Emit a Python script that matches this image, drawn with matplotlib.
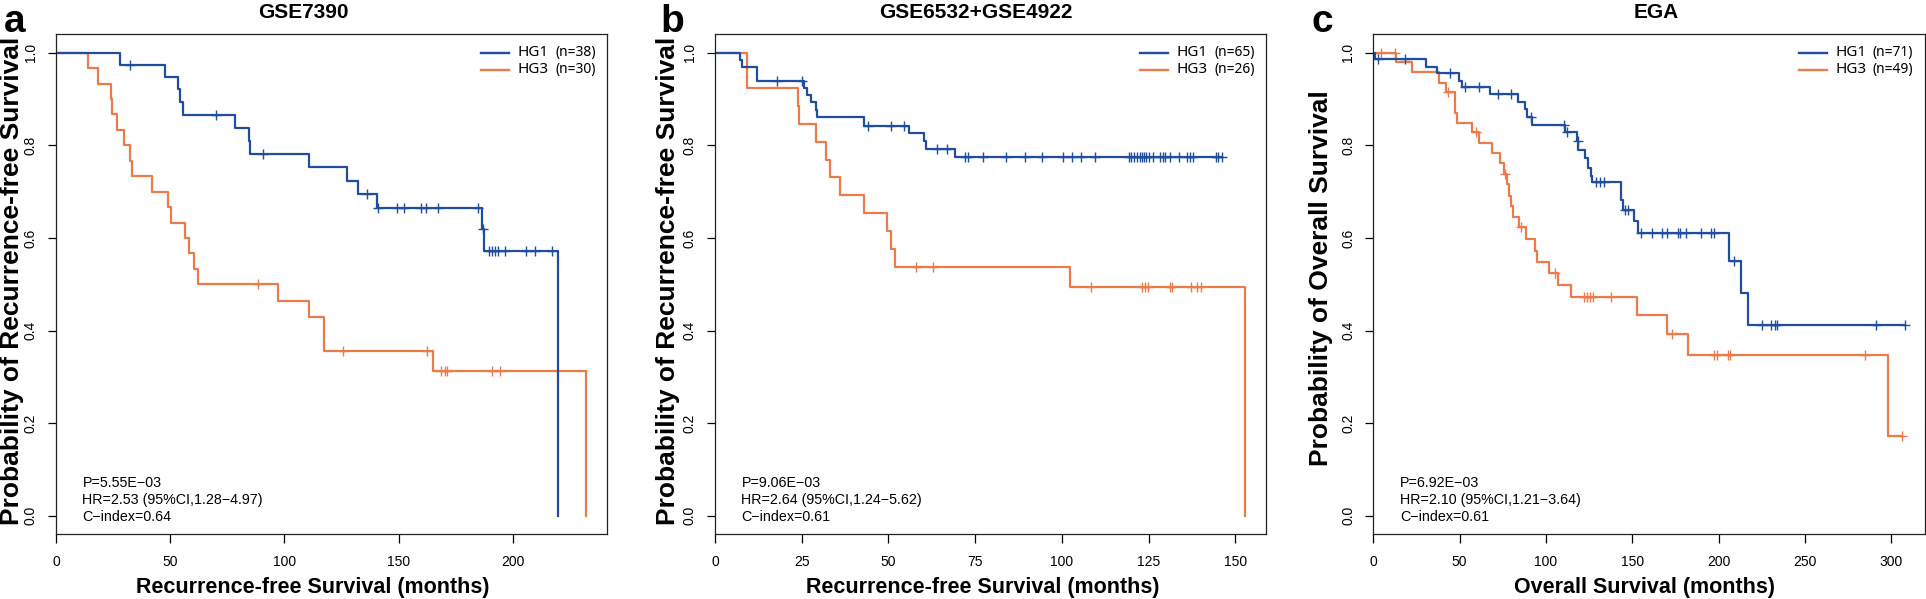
import numpy as np
import matplotlib
matplotlib.use('Agg')
import matplotlib.pyplot as plt

# ---- data (months, survival after each event, censor times) ----
# panel a : GSE7390
a_hg1_t = [28.2, 47.8, 53.6, 54.2, 55.4, 78.5, 84.5, 85.0, 111.0, 127.3, 132.4, 140.4, 186.6, 187.6, 219.8]
a_hg1_s = [0.974, 0.947, 0.921, 0.894, 0.866, 0.838, 0.810, 0.781, 0.753, 0.724, 0.696, 0.665, 0.620, 0.573, 0.0]
a_hg1_c = [32.2, 70.1, 90.8, 136.2, 140.8, 149.3, 152.2, 160.0, 162.0, 167.1, 184.9, 186.9, 189.8, 190.7,
           192.2, 193.5, 196.7, 205.8, 209.6, 217.3]
a_hg3_t = [14.2, 18.5, 24.0, 24.5, 26.7, 29.6, 32.3, 33.2, 42.1, 48.9, 50.5, 56.7, 58.1, 60.3, 62.1,
           97.0, 110.6, 117.3, 165.1, 232.2]
a_hg3_s = [0.967, 0.933, 0.900, 0.867, 0.833, 0.800, 0.767, 0.733, 0.700, 0.667, 0.633, 0.600, 0.567,
           0.533, 0.500, 0.463, 0.429, 0.357, 0.312, 0.0]
a_hg3_c = [88.5, 125.7, 162.4, 168.4, 170.2, 171.3, 190.7, 194.2]

# panel b : GSE6532+GSE4922
b_hg1_t = [7.2, 7.8, 12.1, 25.7, 26.4, 27.8, 29.2, 29.5, 43.0, 55.9, 60.1, 60.7, 69.1]
b_hg1_s = [0.985, 0.969, 0.939, 0.924, 0.909, 0.893, 0.877, 0.861, 0.843, 0.827, 0.809, 0.793, 0.775]
b_hg1_c = [18.0, 25.0, 44.2, 50.7, 54.6, 64.0, 66.9, 72.1, 72.9, 77.1, 84.0, 89.2, 94.3, 100.4, 103.0,
           105.6, 109.5, 119.3, 120.0, 120.8, 121.7, 122.4, 123.1, 123.6, 124.3, 125.0, 126.1, 128.2,
           129.1, 129.8, 131.2, 133.6, 136.0, 137.0, 137.9, 144.4, 145.0, 146.2]
b_hg3_t = [9.1, 23.8, 24.3, 29.0, 32.0, 33.1, 36.0, 43.0, 49.7, 50.8, 51.8, 102.2, 152.7]
b_hg3_s = [0.923, 0.885, 0.846, 0.808, 0.769, 0.731, 0.692, 0.654, 0.615, 0.577, 0.538, 0.494, 0.0]
b_hg3_c = [57.8, 62.9, 108.5, 123.1, 123.9, 124.8, 131.1, 131.7, 137.2, 139.0, 140.2]

# panel c : EGA
c_hg1_t = [0.7, 30.8, 36.7, 49.6, 51.3, 67.8, 83.8, 87.8, 88.9, 91.8, 111.3, 117.9, 118.8, 122.8, 124.2,
           125.9, 126.6, 143.5, 144.7, 150.8, 153.2, 206.1, 213.2, 216.9]
c_hg1_s = [0.986, 0.970, 0.957, 0.940, 0.927, 0.911, 0.894, 0.878, 0.862, 0.845, 0.829, 0.809, 0.791,
           0.773, 0.752, 0.734, 0.720, 0.683, 0.660, 0.637, 0.611, 0.551, 0.481, 0.413]
c_hg1_c = [2.6, 18.4, 44.2, 52.9, 61.2, 72.2, 79.5, 91.5, 110.4, 112.0, 118.5, 128.9, 131.3, 133.6,
           145.6, 147.3, 155.0, 161.4, 167.3, 170.1, 176.5, 177.9, 180.9, 190.1, 195.8, 197.6, 209.2,
           225.0, 230.6, 232.5, 233.9, 291.3, 307.8]
c_hg3_t = [12.9, 22.6, 37.9, 42.4, 47.5, 48.5, 57.2, 61.2, 68.9, 73.2, 75.5, 77.2, 78.4, 80.0, 80.7,
           84.2, 88.2, 93.6, 94.6, 101.9, 107.1, 114.4, 152.7, 170.1, 182.4, 297.9]
c_hg3_s = [0.980, 0.959, 0.934, 0.916, 0.871, 0.849, 0.829, 0.806, 0.783, 0.761, 0.739, 0.716, 0.691,
           0.669, 0.646, 0.623, 0.597, 0.572, 0.548, 0.525, 0.498, 0.472, 0.433, 0.393, 0.348, 0.173]
c_hg3_c = [4.2, 12.5, 43.0, 59.5, 76.5, 85.4, 105.4, 121.9, 123.8, 125.6, 127.5, 137.9, 173.2, 197.4,
           199.1, 205.6, 206.4, 285.0, 306.1]

letters = ['a', 'b', 'c']
titles = ['GSE7390', 'GSE6532+GSE4922', 'EGA']
xlabels = ['Recurrence-free Survival (months)', 'Recurrence-free Survival (months)', 'Overall Survival (months)']
ylabels = ['Probability of Recurrence-free Survival', 'Probability of Recurrence-free Survival',
           'Probability of Overall Survival']
n_hg1 = [38, 65, 71]
n_hg3 = [30, 26, 49]
stats = [['P=5.55E\u221203', 'HR=2.53 (95%CI,1.28\u22124.97)', 'C\u2212index=0.64'],
         ['P=9.06E\u221203', 'HR=2.64 (95%CI,1.24\u22125.62)', 'C\u2212index=0.61'],
         ['P=6.92E\u221203', 'HR=2.10 (95%CI,1.21\u22123.64)', 'C\u2212index=0.61']]
xticks = [[0, 50, 100, 150, 200], [0, 25, 50, 75, 100, 125, 150], [0, 50, 100, 150, 200, 250, 300]]
xmax = [241.4, 158.8, 319.5]
yticks = [0.0, 0.2, 0.4, 0.6, 0.8, 1.0]

BLUE = '#1f4e9e'
ORANGE = '#ec7b4b'

plt.rcParams['font.family'] = 'Liberation Sans'

W, H = 1926, 599
fig = plt.figure(figsize=(W / 100, H / 100), dpi=100)

# layout, in pixels
boxes = [(56, 551.3), (715, 551), (1373.3, 551.5)]
title_x = [303.5, 975.4, 1656.3]
xlab_x = [313.2, 983.1, 1644.3]
ylab_x = [12.5, 668, 1321]
ylab_y = [281, 281, 278]
letter_x = [4, 660, 1311.7]

curves = [((a_hg1_t, a_hg1_s, a_hg1_c), (a_hg3_t, a_hg3_s, a_hg3_c)),
          ((b_hg1_t, b_hg1_s, b_hg1_c), (b_hg3_t, b_hg3_s, b_hg3_c)),
          ((c_hg1_t, c_hg1_s, c_hg1_c), (c_hg3_t, c_hg3_s, c_hg3_c))]


def km(ax, t, s, c, color):
    end = max(t[-1], max(c))
    x = np.r_[0, t, end]
    y = np.r_[1.0, s, s[-1]]
    ax.step(x, y, where='post', color=color, lw=1.6)
    idx = np.searchsorted(x[:-1], c, side='right') - 1
    ax.plot(c, y[idx], ls='none', marker='+', ms=7.5, mew=1.0, color=color)


for i in range(3):
    left, width = boxes[i]
    ax = fig.add_axes([left / W, 1 - 534.3 / H, width / W, 500 / H])
    g1, g3 = curves[i]
    km(ax, *g3, ORANGE)
    km(ax, *g1, BLUE)
    ax.set_xlim(0, xmax[i])
    ax.set_ylim(-0.04, 1.04)
    ax.set_xticks(xticks[i], [str(v) for v in xticks[i]], fontsize=10)
    ax.set_yticks(yticks, ['%.1f' % v for v in yticks], rotation=90, va='center', fontsize=10)
    ax.tick_params(axis='x', length=6.5, width=0.9, pad=8.5)
    ax.tick_params(axis='y', length=6, width=0.9, pad=7)
    for sp in ax.spines.values():
        sp.set_linewidth(0.9)
        sp.set_color('#222222')

    # legend drawn by hand
    for yy, col, lab, n in [(0.963, BLUE, 'HG1', n_hg1[i]), (0.929, ORANGE, 'HG3', n_hg3[i])]:
        ax.plot([0.771, 0.822], [yy, yy], color=col, lw=1.7, transform=ax.transAxes)
        ax.text(0.838, yy, lab, transform=ax.transAxes, va='center', ha='left',
                fontfamily='Noto Sans', fontweight='bold', fontsize=11)
        ax.text(0.906, yy, '(n=%d)' % n, transform=ax.transAxes, va='center', ha='left',
                fontfamily='Noto Sans', fontsize=10)

    for k, yy in enumerate([0.103, 0.069, 0.034]):
        ax.text(0.048, yy, stats[i][k], transform=ax.transAxes, va='center', ha='left', fontsize=10.3)

    fig.text(title_x[i] / W, 1 - 18.3 / H, titles[i], ha='center', va='baseline',
             fontweight='bold', fontsize=15)
    fig.text(xlab_x[i] / W, 1 - 593 / H, xlabels[i], ha='center', va='baseline',
             fontweight='bold', fontsize=15.5)
    fig.text(ylab_x[i] / W, 1 - ylab_y[i] / H, ylabels[i], ha='center', va='center', rotation=90,
             fontweight='bold', fontsize=19)
    fig.text(letter_x[i] / W, 1 - 31.5 / H, letters[i], ha='left', va='baseline',
             fontweight='bold', fontsize=28)

fig.savefig('out.png', dpi=100)
